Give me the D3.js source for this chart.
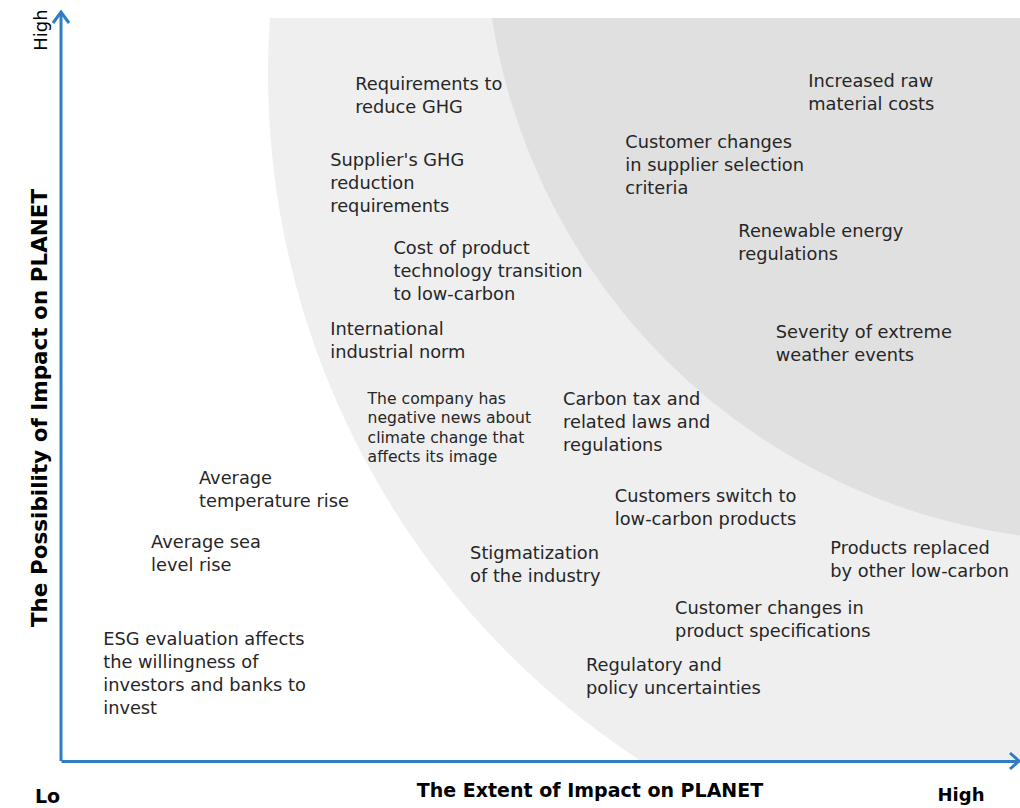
<!DOCTYPE html>
<html>
<head>
<meta charset="utf-8">
<script src="https://cdn.jsdelivr.net/npm/d3@7"></script>
<style>
  body { margin: 0; background: #fff; }
  svg { display: block; font-family: "DejaVu Sans", sans-serif; }
</style>
</head>
<body>
<figure style="margin:0"></figure>
<script>
// risk labels, position = (extent, possibility) on a 0-100 scale
var labels = [
  "Requirements to\nreduce GHG",
  "Increased raw\nmaterial costs",
  "Customer changes\nin supplier selection\ncriteria",
  "Supplier's GHG\nreduction\nrequirements",
  "Renewable energy\nregulations",
  "Cost of product\ntechnology transition\nto low-carbon",
  "International\nindustrial norm",
  "Severity of extreme\nweather events",
  "The company has\nnegative news about\nclimate change that\naffects its image",
  "Carbon tax and\nrelated laws and\nregulations",
  "Average\ntemperature rise",
  "Customers switch to\nlow-carbon products",
  "Average sea\nlevel rise",
  "Products replaced\nby other low-carbon",
  "Stigmatization\nof the industry",
  "Customer changes in\nproduct specifications",
  "ESG evaluation affects\nthe willingness of\ninvestors and banks to\ninvest",
  "Regulatory and\npolicy uncertainties"
];
var extent      = [30.6, 77.9, 58.8, 28.0, 70.6, 34.6, 28.0, 74.5, 31.9, 52.3, 14.3, 57.7, 9.3, 80.2, 42.6, 64.0, 4.3, 54.7];
var possibility = [91.2, 91.5, 83.3, 80.9, 71.3, 69.0, 58.1, 57.7, 48.8, 48.7, 38.0, 35.7, 29.4, 28.6, 27.9, 20.5, 16.3, 12.8];
var small       = [0, 0, 0, 0, 0, 0, 0, 0, 1, 0, 0, 0, 0, 0, 0, 0, 0, 0];

// shaded zones: centre (extent, possibility) and radius in extent units
var zoneNames = ["medium", "high"];
var zoneCx = [107.2, 108.7];
var zoneCy = [92.6, 112.9];
var zoneR  = [85.7, 64.6];
var zoneColors = ["#efefef", "#e0e0e0"];

var xEnds = ["Lo", "High"];
var yEnds = ["High"];

var vmax = 1020, hmax = 808;
var margin = {top: 18, right: 0, bottom: 48, left: 62};
var width = vmax - margin.left - margin.right,
    height = hmax - margin.top - margin.bottom;

var svg = d3.select("figure").append("svg")
    .attr("width", vmax)
    .attr("height", hmax);

var g = svg.append("g")
    .attr("transform", "translate(" + margin.left + "," + margin.top + ")");

var x = d3.scaleLinear().domain([0, 100]).range([0, width]);
var y = d3.scaleLinear().domain([0, 100]).range([height, 0]);

// clip zones to the plot area
g.append("clipPath").attr("id", "plot")
  .append("rect")
    .attr("width", width)
    .attr("height", height);

g.append("g")
    .attr("clip-path", "url(#plot)")
  .selectAll("circle")
  .data(zoneNames)
  .enter().append("circle")
    .attr("cx", function(d, i) { return x(zoneCx[i]); })
    .attr("cy", function(d, i) { return y(zoneCy[i]); })
    .attr("r", function(d, i) { return x(zoneR[i]) - x(0); })
    .attr("fill", function(d, i) { return zoneColors[i]; });

// labels
var lab = g.append("g").attr("fill", "#262626");
labels.forEach(function(t, i) {
  var fs = small[i] ? 15.6 : 17.8;
  var lh = small[i] ? 19.5 : 23;
  var txt = lab.append("text")
      .attr("x", x(extent[i]))
      .attr("y", y(possibility[i]))
      .attr("font-size", fs);
  t.split("\n").forEach(function(line, j) {
    txt.append("tspan")
        .attr("x", x(extent[i]))
        .attr("y", y(possibility[i]) + j * lh)
        .attr("dy", "0.36em")
        .text(line);
  });
});

// axes (no ticks, only the domain line)
var axisColor = "#2f7dc5";
var xaxis = d3.axisBottom(x).tickValues([]).tickSizeOuter(0);
var yaxis = d3.axisLeft(y).tickValues([]).tickSizeOuter(0);

var gx = g.append("g")
    .attr("class", "x axis")
    .attr("transform", "translate(-1," + (height + 1) + ")")
    .call(xaxis);
var gy = g.append("g")
    .attr("class", "y axis")
    .attr("transform", "translate(-1,1)")
    .call(yaxis);
gx.select(".domain").attr("stroke", axisColor).attr("stroke-width", 3);
gy.select(".domain").attr("stroke", axisColor).attr("stroke-width", 3)
    .attr("d", "M0," + height + "V-6");

// arrow heads
g.append("path")
    .attr("d", "M-9,5L-1,-6L7,5")
    .attr("fill", "none").attr("stroke", axisColor).attr("stroke-width", 3);
g.append("path")
    .attr("d", "M" + (width - 10) + "," + (height - 7) + "L" + (width - 1) + "," + (height + 1) + "L" + (width - 10) + "," + (height + 9))
    .attr("fill", "none").attr("stroke", axisColor).attr("stroke-width", 3);

// axis titles
svg.append("text")
    .attr("x", 590).attr("y", 797)
    .attr("text-anchor", "middle")
    .attr("font-weight", "bold")
    .attr("font-size", 19)
    .attr("fill", "#000")
    .text("The Extent of Impact on PLANET");

svg.append("text")
    .attr("transform", "translate(47,408) rotate(-90)")
    .attr("text-anchor", "middle")
    .attr("font-weight", "bold")
    .attr("font-size", 21.5)
    .attr("fill", "#000")
    .text("The Possibility of Impact on PLANET");

// end labels
svg.append("text")
    .attr("x", 35).attr("y", 803)
    .attr("font-weight", "bold").attr("font-size", 19)
    .text(xEnds[0]);
svg.append("text")
    .attr("x", 961).attr("y", 801)
    .attr("text-anchor", "middle")
    .attr("font-weight", "bold").attr("font-size", 18)
    .text(xEnds[1]);
svg.append("text")
    .attr("transform", "translate(47,30) rotate(-90)")
    .attr("text-anchor", "middle")
    .attr("font-size", 18)
    .text(yEnds[0]);
</script>
</body>
</html>
